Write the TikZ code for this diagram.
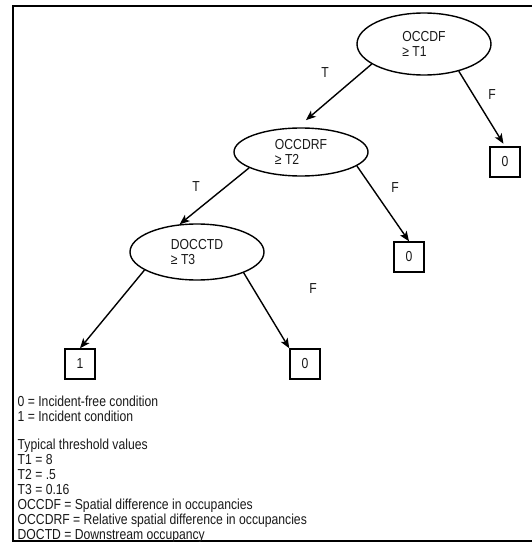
\documentclass[tikz,border=0pt]{standalone}
\usepackage{fontspec}
\setmainfont{Liberation Sans}[FakeStretch=0.84]
\usetikzlibrary{arrows,arrows.meta,shapes,positioning}
\tikzset{
	->, >={Stealth[length=10pt, width=8pt, inset=2.5pt]},
	decision/.style={ellipse, draw, minimum width=134pt, align=left, inner sep=0pt, text=black!90},
	outcome/.style={rectangle, draw, minimum size=30pt, inner sep=0pt, text=black!90},
	branch/.style={text=black!90, inner sep=0pt},
	legendtext/.style={align=left, inner sep=0pt, text=black!90},
	every node/.style={font=\fontsize{14.5}{15}\selectfont},
}

\begin{document}
\begin{tikzpicture}[x=1pt, y=-1pt, line width=1.4pt]
	\useasboundingbox (0,0) rectangle (532,543);
	\draw[-] (533,6) -- (13,6) -- (13,541) -- (533,541);

	\node[decision, minimum height=62pt] (occdf) at (424,44) {OCCDF\\≥ T1};
	\node[decision, minimum height=48pt] (occdrf) at (301,152) {OCCDRF\\≥ T2};
	\node[decision, minimum height=56pt] (doccdt) at (197,252) {DOCCTD\\≥ T3};

	\node[outcome] (out1) at (505,162) {0};
	\node[outcome] (out2) at (409,257) {0};
	\node[outcome] (out3) at (80,364) {1};
	\node[outcome] (out4) at (305,364) {0};

	\node[branch] (t1) at (325,73) {T};
	\node[branch] (f1) at (492,95) {F};
	\node[branch] (t2) at (196,187) {T};
	\node[branch] (f2) at (395,188) {F};
	\node[branch] (f3) at (313,289) {F};

	\draw[shorten >=11pt] (occdf.201) -- (occdrf.98);
	\draw[shorten >=3pt] (occdf.322) -- (out1.north);
	\draw (occdrf.197) -- (doccdt.122);
	\draw (occdrf.346) -- (out2.north);
	\draw (doccdt.199) -- (out3.north);
	\draw (doccdt.336) -- (out4.north west);

	\node[legendtext, anchor=north west] (key1) at (17,395) {0 = Incident-free condition\\1 = Incident condition};
	\node[legendtext, anchor=north west] (key2) at (17,438) {Typical threshold values\\T1 = 8\\T2 = .5\\T3 = 0.16\\OCCDF = Spatial difference in occupancies\\OCCDRF = Relative spatial difference in occupancies\\DOCTD = Downstream occupancy};
\end{tikzpicture}
\end{document}
